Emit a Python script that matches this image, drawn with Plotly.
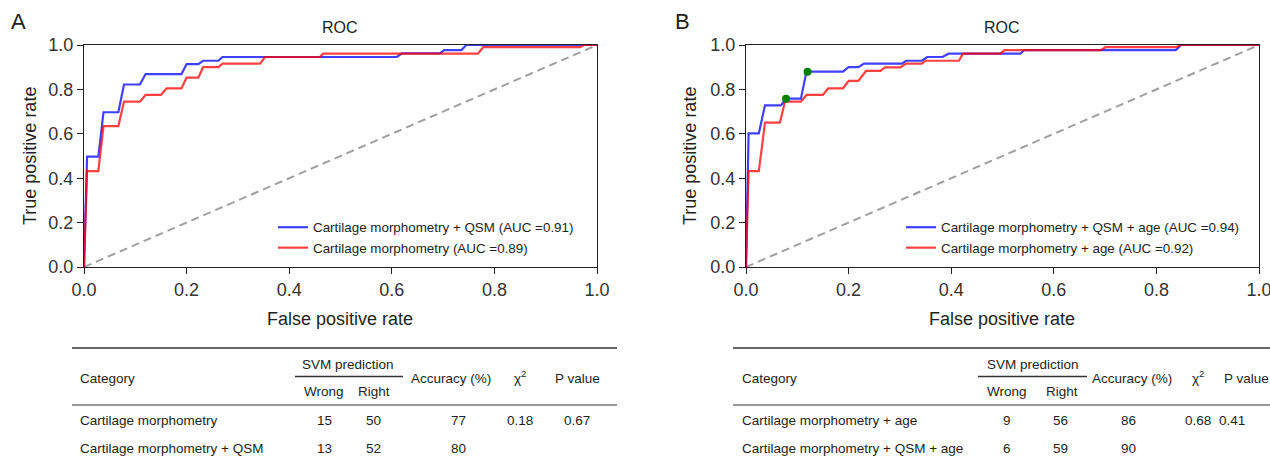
import plotly.graph_objects as go

# ---------------- data ----------------
# Panel A ROC curves
fpr_a_qsm = [0, 0.006, 0.028, 0.038, 0.067, 0.078, 0.109, 0.120, 0.190, 0.200, 0.223, 0.232,
             0.262, 0.270, 0.610, 0.620, 0.694, 0.702, 0.736, 0.745, 1.0]
tpr_a_qsm = [0, 0.497, 0.497, 0.697, 0.697, 0.822, 0.822, 0.869, 0.869, 0.914, 0.914, 0.929,
             0.929, 0.946, 0.946, 0.962, 0.962, 0.977, 0.977, 1.0, 1.0]
fpr_a_morph = [0, 0.006, 0.028, 0.038, 0.067, 0.078, 0.109, 0.120, 0.150, 0.161, 0.190, 0.200,
               0.223, 0.232, 0.262, 0.270, 0.343, 0.353, 0.460, 0.466, 0.768, 0.778, 0.967, 0.975, 1.0]
tpr_a_morph = [0, 0.432, 0.432, 0.635, 0.635, 0.745, 0.745, 0.775, 0.775, 0.805, 0.805, 0.853,
               0.853, 0.900, 0.900, 0.916, 0.916, 0.946, 0.946, 0.961, 0.961, 0.990, 0.990, 1.0, 1.0]

# Panel B ROC curves
fpr_b_qsm_age = [0, 0.005, 0.025, 0.037, 0.068, 0.078, 0.107, 0.118, 0.189, 0.200, 0.219, 0.230,
                 0.304, 0.312, 0.343, 0.353, 0.383, 0.395, 0.535, 0.542, 0.838, 0.848, 1.0]
tpr_b_qsm_age = [0, 0.602, 0.602, 0.728, 0.728, 0.758, 0.758, 0.880, 0.880, 0.900, 0.900, 0.916,
                 0.916, 0.929, 0.929, 0.946, 0.946, 0.961, 0.961, 0.977, 0.977, 1.0, 1.0]
fpr_b_age = [0, 0.005, 0.025, 0.037, 0.066, 0.076, 0.107, 0.118, 0.150, 0.160, 0.189, 0.200,
             0.219, 0.234, 0.262, 0.271, 0.301, 0.312, 0.343, 0.350, 0.415, 0.423, 0.496, 0.504,
             0.691, 0.701, 0.838, 0.848, 1.0]
tpr_b_age = [0, 0.432, 0.432, 0.650, 0.650, 0.745, 0.745, 0.775, 0.775, 0.805, 0.805, 0.838,
             0.838, 0.883, 0.883, 0.899, 0.899, 0.916, 0.916, 0.929, 0.929, 0.961, 0.961, 0.977,
             0.977, 0.990, 0.990, 1.0, 1.0]
# highlighted operating points (panel B)
fpr_b_points = [0.078, 0.120]
tpr_b_points = [0.758, 0.880]

names_a = ["Cartilage morphometry + QSM (AUC =0.91)", "Cartilage morphometry (AUC =0.89)"]
names_b = ["Cartilage morphometry + QSM + age (AUC =0.94)", "Cartilage morphometry + age (AUC =0.92)"]

tick_vals = [0, 0.2, 0.4, 0.6, 0.8, 1.0]

# Tables
table_header = ["Category", "SVM prediction", "Wrong", "Right", "Accuracy (%)", "χ<sup>2</sup>", "P value"]
cat_a = ["Cartilage morphometry", "Cartilage morphometry + QSM"]
wrong_a = ["15", "13"]
right_a = ["50", "52"]
acc_a = ["77", "80"]
chi_a = ["0.18", ""]
p_a = ["0.67", ""]
cat_b = ["Cartilage morphometry + age", "Cartilage morphometry + QSM + age"]
wrong_b = ["9", "6"]
right_b = ["56", "59"]
acc_b = ["86", "90"]
chi_b = ["0.68", ""]
p_b = ["0.41", ""]

# ---------------- layout helpers ----------------
W, H = 1270, 460
FONT = "Liberation Sans, Arial, Helvetica, sans-serif"
TXT = "#231f20"


def X(p):
    return p / W


def Y(p):
    return 1 - p / H


BLUE = "rgba(0,0,255,0.75)"
RED = "rgba(255,0,0,0.75)"
DIAG = "rgba(150,150,150,0.9)"

fig = go.Figure()

# Panel A
fig.add_trace(go.Scatter(x=[0, 1], y=[0, 1], mode="lines", line=dict(color=DIAG, width=2, dash="8px,5px"),
                         showlegend=False, xaxis="x", yaxis="y", hoverinfo="skip"))
fig.add_trace(go.Scatter(x=fpr_a_qsm, y=tpr_a_qsm, mode="lines", name=names_a[0],
                         line=dict(color=BLUE, width=2.2), xaxis="x", yaxis="y", legend="legend"))
fig.add_trace(go.Scatter(x=fpr_a_morph, y=tpr_a_morph, mode="lines", name=names_a[1],
                         line=dict(color=RED, width=2.2), xaxis="x", yaxis="y", legend="legend"))

# Panel B
fig.add_trace(go.Scatter(x=[0, 1], y=[0, 1], mode="lines", line=dict(color=DIAG, width=2, dash="8px,5px"),
                         showlegend=False, xaxis="x2", yaxis="y2", hoverinfo="skip"))
fig.add_trace(go.Scatter(x=fpr_b_qsm_age, y=tpr_b_qsm_age, mode="lines", name=names_b[0],
                         line=dict(color=BLUE, width=2.2), xaxis="x2", yaxis="y2", legend="legend2"))
fig.add_trace(go.Scatter(x=fpr_b_age, y=tpr_b_age, mode="lines", name=names_b[1],
                         line=dict(color=RED, width=2.2), xaxis="x2", yaxis="y2", legend="legend2"))
fig.add_trace(go.Scatter(x=fpr_b_points, y=tpr_b_points, mode="markers", showlegend=False,
                         marker=dict(color="#008000", size=8), xaxis="x2", yaxis="y2"))

ax_common = dict(range=[0, 1], tickvals=tick_vals, tickformat=".1f", showgrid=False, zeroline=False,
                 showline=True, linecolor="#222", linewidth=1.3, mirror=True, ticks="outside",
                 ticklen=6, tickwidth=1.3, tickcolor="#222", automargin=False,
                 ticklabeloverflow="allow",
                 tickfont=dict(family=FONT, size=18, color="#333"))

ydom = [Y(267), Y(45)]
fig.update_layout(
    width=W, height=H,
    margin=dict(l=0, r=0, t=0, b=0, autoexpand=False),
    paper_bgcolor="white", plot_bgcolor="white",
    xaxis=dict(domain=[X(84), X(597)], anchor="y", **ax_common),
    yaxis=dict(domain=ydom, anchor="x", **ax_common),
    xaxis2=dict(domain=[X(746), X(1259)], anchor="y2", **ax_common),
    yaxis2=dict(domain=ydom, anchor="x2", **ax_common),
    legend=dict(x=X(579), y=Y(263), xanchor="right", yanchor="bottom",
                bgcolor="rgba(255,255,255,0)", borderwidth=0, tracegroupgap=0,
                font=dict(family=FONT, size=13.4, color=TXT)),
    legend2=dict(x=X(1245), y=Y(263), xanchor="right", yanchor="bottom",
                 bgcolor="rgba(255,255,255,0)", borderwidth=0, tracegroupgap=0,
                 font=dict(family=FONT, size=13.4, color=TXT)),
    showlegend=True,
)

ann = []


def text(x, y, s, size=13.5, anchor="center", angle=0, color=TXT):
    if not s:
        return
    ann.append(dict(x=X(x), y=Y(y), xref="paper", yref="paper", text=s, showarrow=False,
                    xanchor=anchor, yanchor="middle", textangle=angle,
                    font=dict(family=FONT, size=size, color=color)))


# Panel letters, titles, axis titles
text(18, 22, "A", size=22)
text(682, 22, "B", size=22)
text(340, 28, "ROC", size=16)
text(1002, 28, "ROC", size=16)
text(30, 156, "True positive rate", size=18, angle=-90)
text(690, 156, "True positive rate", size=18, angle=-90)
text(340, 319, "False positive rate", size=18)
text(1002, 319, "False positive rate", size=18)

shapes = []


def hline(x0, x1, y, w=1.3):
    shapes.append(dict(type="line", xref="paper", yref="paper", x0=X(x0), x1=X(x1), y0=Y(y), y1=Y(y),
                       line=dict(color="#333", width=w)))


# Table A
hline(72, 617, 348, 1.5)
hline(295, 403, 376.5, 1.5)
hline(72, 617, 405, 1.2)
text(78, 378, table_header[0], anchor="left")
text(348, 364, table_header[1])
text(324, 391, table_header[2])
text(374, 391, table_header[3])
text(451, 378, table_header[4])
text(520, 377, table_header[5])
text(577, 378, table_header[6])
for i, yy in enumerate([420, 448]):
    text(78, yy, cat_a[i], anchor="left")
    text(324, yy, wrong_a[i])
    text(373, yy, right_a[i])
    text(458, yy, acc_a[i])
    text(520, yy, chi_a[i])
    text(577, yy, p_a[i])

# Table B
hline(733, 1270, 348, 1.5)
hline(978, 1087, 376.5, 1.5)
hline(733, 1270, 405, 1.2)
text(740, 378, table_header[0], anchor="left")
text(1033, 364, table_header[1])
text(1007, 391, table_header[2])
text(1062, 391, table_header[3])
text(1132, 378, table_header[4])
text(1198, 377, table_header[5])
text(1222, 378, table_header[6], anchor="left")
for i, yy in enumerate([420, 448]):
    text(740, yy, cat_b[i], anchor="left")
    text(1007, yy, wrong_b[i])
    text(1060, yy, right_b[i])
    text(1128, yy, acc_b[i])
    text(1198, yy, chi_b[i])
    text(1232, yy, p_b[i])

fig.update_layout(annotations=ann, shapes=shapes)
fig.write_html("out.html", config={"displayModeBar": False},
               post_script="document.body.style.margin='0';document.body.style.overflow='hidden';")
